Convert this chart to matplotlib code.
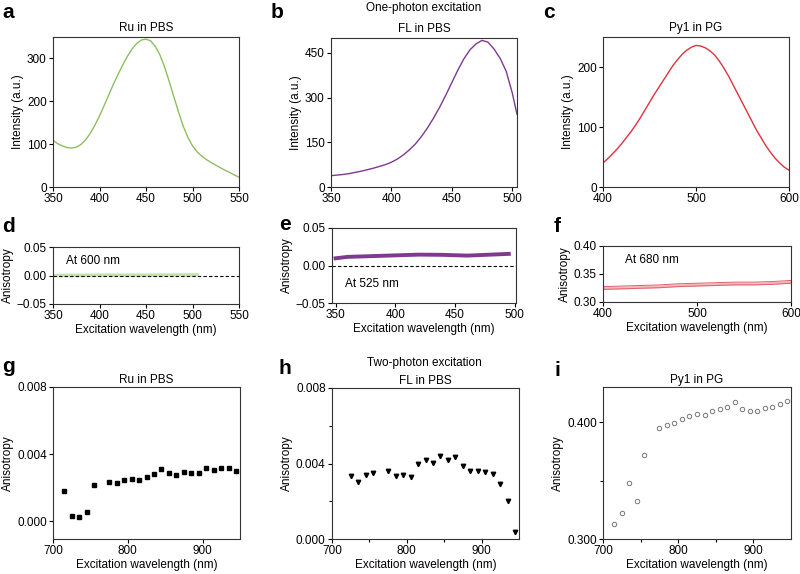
import matplotlib.pyplot as plt
import numpy as np

plt.rcParams['font.family'] = ['Liberation Sans', 'DejaVu Sans']
plt.rcParams['font.size'] = 8
plt.rcParams['axes.linewidth'] = 0.8
plt.rcParams['axes.edgecolor'] = '#333333'

# one-photon emission spectra
wl_a = [350, 355, 360, 365, 370, 375, 380, 385, 390, 395, 400, 405, 410, 415, 420, 425, 430, 435, 440, 445,
        450, 455, 460, 465, 470, 475, 480, 485, 490, 495, 500, 505, 510, 515, 520, 525, 530, 535, 540, 545, 550]
int_a = [109, 101, 96, 92, 91, 93, 99, 110, 125, 144, 166, 190, 215, 240, 263, 285, 305, 322, 335, 343,
         345, 341, 328, 308, 280, 246, 210, 175, 142, 116, 96, 82, 72, 64, 57, 51, 45, 39, 34, 28, 23]

wl_b = [350, 355, 360, 365, 370, 375, 380, 385, 390, 395, 400, 405, 410, 415, 420, 425, 430, 435, 440, 445,
        450, 455, 460, 465, 470, 475, 480, 485, 490, 495, 500, 504]
int_b = [38, 40, 42, 45, 49, 53, 58, 63, 69, 75, 83, 94, 108, 125, 145, 170, 199, 232, 268, 308,
         350, 392, 430, 460, 480, 492, 486, 463, 432, 389, 317, 244]

wl_c = [400, 405, 410, 415, 420, 425, 430, 435, 440, 445, 450, 455, 460, 465, 470, 475, 480, 485, 490, 495,
        500, 505, 510, 515, 520, 525, 530, 535, 540, 545, 550, 555, 560, 565, 570, 575, 580, 585, 590, 595, 600]
int_c = [40, 47, 55, 63, 72, 82, 92, 103, 115, 128, 141, 154, 166, 178, 190, 202, 212, 221, 228, 233,
         236, 235, 232, 227, 220, 210, 198, 185, 170, 155, 140, 125, 110, 95, 82, 69, 58, 48, 40, 33, 28]

# one-photon anisotropy
wl_d = [350, 400, 450, 505]
an_d = [0.0, 0.0005, 0.0005, 0.001]

wl_e = [350, 360, 370, 380, 400, 420, 440, 460, 480, 495]
an_e = [0.0096, 0.0115, 0.012, 0.0125, 0.0135, 0.0145, 0.0142, 0.0132, 0.0145, 0.0155]

wl_f = [400, 420, 440, 460, 480, 500, 520, 540, 560, 580, 600]
an_f = [0.325, 0.326, 0.327, 0.328, 0.330, 0.331, 0.332, 0.333, 0.333, 0.334, 0.336]
err_f = 0.0025

# two-photon anisotropy
wl_g = [715, 725, 735, 745, 755, 775, 785, 795, 805, 815, 825, 835, 845, 855, 865, 875, 885, 895, 905, 915, 925, 935, 945]
an_g = [0.00182, 0.00032, 0.00022, 0.00057, 0.00216, 0.00232, 0.00226, 0.00246, 0.00253, 0.00246, 0.00265,
        0.00281, 0.00311, 0.00289, 0.00275, 0.00291, 0.00289, 0.00289, 0.00317, 0.00307, 0.00317, 0.00317, 0.00297]

wl_h = [725, 735, 745, 755, 775, 785, 795, 805, 815, 825, 835, 845, 855, 865, 875, 885, 895, 905, 915, 925, 935, 945]
an_h = [0.00333, 0.00303, 0.00338, 0.00350, 0.00359, 0.00336, 0.00340, 0.00331, 0.00400, 0.00421, 0.00402,
        0.00439, 0.00421, 0.00434, 0.00386, 0.00359, 0.00359, 0.00356, 0.00343, 0.00290, 0.00202, 0.00035]

wl_i = [715, 725, 735, 745, 755, 775, 785, 795, 805, 815, 825, 835, 845, 855, 865, 875, 885, 895, 905, 915, 925, 935, 945]
an_i = [0.3129, 0.3223, 0.348, 0.3329, 0.372, 0.3951, 0.3971, 0.3994, 0.4023, 0.4051, 0.4071, 0.406, 0.4094,
        0.4109, 0.4129, 0.4174, 0.4109, 0.4094, 0.4094, 0.4117, 0.4129, 0.4151, 0.418]

green = '#8dbf5e'
purple = '#7d3a8e'
red = '#e0323f'

fig = plt.figure(figsize=(8, 5.74), dpi=100)

def box(px):
    x0, y0, x1, y1 = px
    return [x0 / 800, 1 - y1 / 574, (x1 - x0) / 800, (y1 - y0) / 574]

ax_a = fig.add_axes(box((53, 37, 239, 187)))
ax_b = fig.add_axes(box((331, 38, 517, 187)))
ax_c = fig.add_axes(box((603, 37, 789, 187)))
ax_d = fig.add_axes(box((53, 247, 239, 304)))
ax_e = fig.add_axes(box((332, 228, 516, 303)))
ax_f = fig.add_axes(box((603, 246, 791, 302)))
ax_g = fig.add_axes(box((53, 387, 240, 539)))
ax_h = fig.add_axes(box((332, 388, 519, 539)))
ax_i = fig.add_axes(box((603, 387, 791, 539)))

for ax in [ax_a, ax_b, ax_c, ax_d, ax_e, ax_f, ax_g, ax_h, ax_i]:
    ax.tick_params(direction='out', length=3, width=0.8, labelsize=8.5, pad=1.5)

# a
ax_a.plot(wl_a, int_a, color=green, lw=1)
ax_a.set_xlim(350, 550)
ax_a.set_ylim(0, 350)
ax_a.set_xticks([350, 400, 450, 500, 550])
ax_a.set_yticks([0, 100, 200, 300])
ax_a.set_ylabel('Intensity (a.u.)', fontsize=8.5, labelpad=2)
ax_a.set_title('Ru in PBS', fontsize=8.5, pad=4)

# b
ax_b.plot(wl_b, int_b, color=purple, lw=1)
ax_b.set_xlim(350, 504)
ax_b.set_ylim(0, 500)
ax_b.set_xticks([350, 400, 450, 500])
ax_b.set_yticks([0, 150, 300, 450])
ax_b.set_ylabel('Intensity (a.u.)', fontsize=8.5, labelpad=2)
ax_b.set_title('FL in PBS', fontsize=8.5, pad=4)

# c
ax_c.plot(wl_c, int_c, color=red, lw=1)
ax_c.set_xlim(400, 600)
ax_c.set_ylim(0, 250)
ax_c.set_xticks([400, 500, 600])
ax_c.set_yticks([0, 100, 200])
ax_c.set_ylabel('Intensity (a.u.)', fontsize=8.5, labelpad=2)
ax_c.set_title('Py1 in PG', fontsize=8.5, pad=4)

# d
ax_d.plot(wl_d, an_d, color='#c5e0ad', lw=2.5)
ax_d.axhline(0, color='black', lw=0.8, ls=(0, (3, 2)))
ax_d.set_xlim(350, 550)
ax_d.set_ylim(-0.05, 0.05)
ax_d.set_xticks([350, 400, 450, 500, 550])
ax_d.set_yticks([-0.05, 0, 0.05])
ax_d.set_yticklabels(['\u22120.05', '0.00', '0.05'])
ax_d.text(364, 0.025, 'At 600 nm', fontsize=8.5, va='center')

# e
ax_e.plot(wl_e, an_e, color=purple, lw=2.8)
ax_e.axhline(0, color='black', lw=0.8, ls=(0, (3, 2)))
ax_e.set_xlim(347, 501)
ax_e.set_ylim(-0.05, 0.05)
ax_e.set_xticks([350, 400, 450, 500])
ax_e.set_yticks([-0.05, 0, 0.05])
ax_e.set_yticklabels(['\u22120.05', '0.00', '0.05'])
ax_e.text(358, -0.025, 'At 525 nm', fontsize=8.5, va='center')

# f
lo_f = np.array(an_f) - err_f
hi_f = np.array(an_f) + err_f
ax_f.fill_between(wl_f, lo_f, hi_f, color='#f2b8bb', lw=0)
ax_f.plot(wl_f, lo_f, color='#e0606a', lw=0.7)
ax_f.plot(wl_f, hi_f, color='#e0606a', lw=0.7)
ax_f.set_xlim(400, 600)
ax_f.set_ylim(0.30, 0.40)
ax_f.set_xticks([400, 500, 600])
ax_f.set_yticks([0.30, 0.35, 0.40])
ax_f.set_yticklabels(['0.30', '0.35', '0.40'])
ax_f.text(423, 0.375, 'At 680 nm', fontsize=8.5, va='center')

for ax in [ax_d, ax_e, ax_f, ax_g, ax_h, ax_i]:
    ax.set_ylabel('Anisotropy', fontsize=8.5, labelpad=2)
    ax.set_xlabel('Excitation wavelength (nm)', fontsize=8.5, labelpad=1)

# g
ax_g.plot(wl_g, an_g, 's', color='black', ms=2.6)
ax_g.set_xlim(700, 950)
ax_g.set_ylim(-0.00107, 0.008)
ax_g.set_xticks([700, 800, 900])
ax_g.set_yticks([0, 0.004, 0.008])
ax_g.set_yticklabels(['0.000', '0.004', '0.008'])
ax_g.set_title('Ru in PBS', fontsize=8.5, pad=3)

# h
ax_h.plot(wl_h, an_h, 'v', color='black', ms=3.2)
ax_h.set_xlim(700, 950)
ax_h.set_ylim(0, 0.008)
ax_h.set_xticks([700, 800, 900])
ax_h.set_xticks([750, 850], minor=True)
ax_h.set_yticks([0, 0.004, 0.008])
ax_h.set_yticks([0.002, 0.006], minor=True)
ax_h.set_yticklabels(['0.000', '0.004', '0.008'])
ax_h.tick_params(which='minor', direction='out', length=2, width=0.8)
ax_h.set_title('FL in PBS', fontsize=8.5, pad=3)

# i
ax_i.plot(wl_i, an_i, 'o', mfc='none', mec='#777777', mew=0.7, ms=3.2, clip_on=False)
ax_i.set_xlim(700, 950)
ax_i.set_ylim(0.300, 0.430)
ax_i.set_xticks([700, 800, 900])
ax_i.set_xticks([750, 850], minor=True)
ax_i.set_yticks([0.300, 0.400])
ax_i.set_yticks([0.350], minor=True)
ax_i.set_yticklabels(['0.300', '0.400'])
ax_i.tick_params(which='minor', direction='out', length=2, width=0.8)
ax_i.set_title('Py1 in PG', fontsize=8.5, pad=3)

# headings and panel letters
fig.text(424 / 800, 1 - 8 / 574, 'One-photon excitation', fontsize=8.5, ha='center', va='center')
fig.text(424 / 800, 1 - 363 / 574, 'Two-photon excitation', fontsize=8.5, ha='center', va='center')

letters = [('a', 2, 12), ('b', 271, 12), ('c', 543, 12), ('d', 2, 226), ('e', 279, 224),
           ('f', 554, 226), ('g', 2, 366), ('h', 279, 368), ('i', 554, 370)]
for lab, lx, ly in letters:
    fig.text(lx / 800, 1 - ly / 574, lab, fontsize=15, fontweight='bold', va='center', ha='left')

fig.savefig('out.png', dpi=100)
